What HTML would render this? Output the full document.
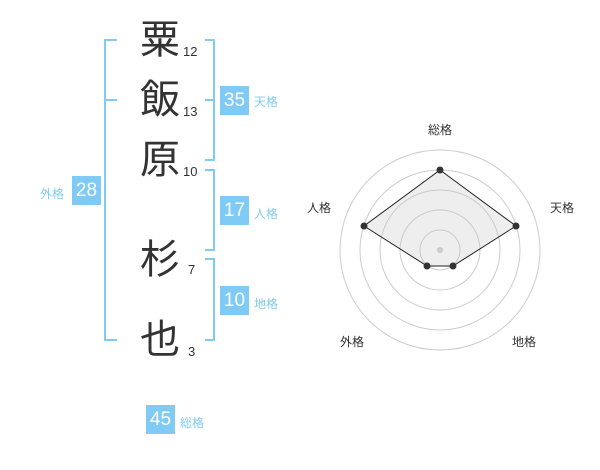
<!DOCTYPE html>
<html><head><meta charset="utf-8"><style>
body{margin:0;width:600px;height:470px;background:#fff;position:relative;overflow:hidden;font-family:"Liberation Sans","Noto Sans CJK JP",sans-serif}
.k{position:absolute;font-size:40px;color:#333;line-height:40px;width:44px;text-align:center}
.n{position:absolute;font-size:13px;color:#333;line-height:13px}
.b{position:absolute;background:#7fcbf5;color:#fff;font-size:19px;width:29px;height:29px;line-height:29px;text-align:center}
.l{position:absolute;font-size:12px;color:#7fcbf5;line-height:12px}
.r{position:absolute;font-size:12px;color:#333;line-height:12px}
</style></head><body>
<svg width="600" height="470" style="position:absolute;left:0;top:0">
<g stroke="#7fcbf5" stroke-width="2" fill="none">
<path d="M117 40H105V340H117M105 100H117"/>
<path d="M205 40H214V160H205M205 100H214"/>
<path d="M205 170H214V250H205"/>
<path d="M205 259H214V340H205"/>
</g>
<g stroke="#ccc" stroke-width="1" fill="none">
<circle cx="440" cy="250" r="100"/><circle cx="440" cy="250" r="80"/><circle cx="440" cy="250" r="60"/><circle cx="440" cy="250" r="40"/><circle cx="440" cy="250" r="20"/>
</g>
<circle cx="440" cy="250" r="3" fill="#ccc"/>
<polygon points="440,170 516,226 453,266 427,266 364,226" fill="rgba(200,200,200,0.3)" stroke="#222" stroke-width="1"/>
<g fill="#333"><circle cx="440" cy="170" r="3.5"/><circle cx="516" cy="226" r="3.5"/><circle cx="453" cy="266" r="3.5"/><circle cx="427" cy="266" r="3.5"/><circle cx="364" cy="226" r="3.5"/></g>
</svg>
<div class="k" style="left:138px;top:20px">粟</div><div class="n" style="left:183px;top:45px">12</div>
<div class="k" style="left:138px;top:80px">飯</div><div class="n" style="left:183px;top:105px">13</div>
<div class="k" style="left:138px;top:140px">原</div><div class="n" style="left:183px;top:165px">10</div>
<div class="k" style="left:138px;top:240px">杉</div><div class="n" style="left:188px;top:263px">7</div>
<div class="k" style="left:138px;top:320px">也</div><div class="n" style="left:188px;top:345px">3</div>
<div class="b" style="left:72px;top:176px">28</div><div class="l" style="left:40px;top:188px">外格</div>
<div class="b" style="left:220px;top:86px">35</div><div class="l" style="left:254px;top:96px">天格</div>
<div class="b" style="left:220px;top:196px">17</div><div class="l" style="left:254px;top:208px">人格</div>
<div class="b" style="left:220px;top:286px">10</div><div class="l" style="left:254px;top:298px">地格</div>
<div class="b" style="left:146px;top:405px">45</div><div class="l" style="left:180px;top:417px">総格</div>
<div class="r" style="left:428px;top:124px">総格</div>
<div class="r" style="left:550px;top:202px">天格</div>
<div class="r" style="left:307px;top:202px">人格</div>
<div class="r" style="left:340px;top:336px">外格</div>
<div class="r" style="left:512px;top:336px">地格</div>
</body></html>
